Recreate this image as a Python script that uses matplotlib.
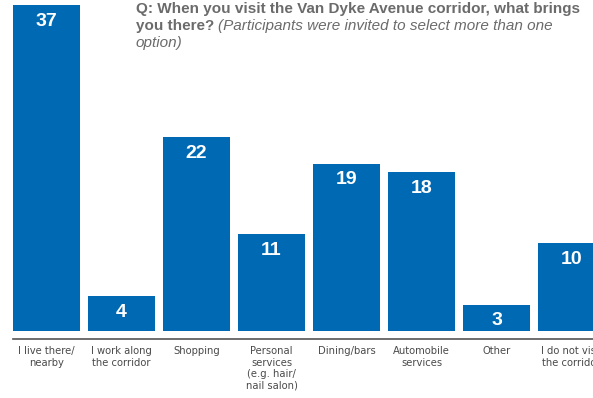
import matplotlib.pyplot as plt

categories = ["I live there/\nnearby", "I work along\nthe corridor", "Shopping",
              "Personal\nservices\n(e.g. hair/\nnail salon)", "Dining/bars",
              "Automobile\nservices", "Other", "I do not visit\nthe corridor"]
values = [37, 4, 22, 11, 19, 18, 3, 10]

blue = "#0069b4"
grey = "#6b6b6b"

plt.rcParams['font.family'] = ['Liberation Sans', 'DejaVu Sans']

fig = plt.figure(figsize=(5.93, 3.98), dpi=100)
ax = fig.add_axes([0, 0, 1, 1])
ax.set_xlim(-0.62, 7.287)
ax.set_ylim(-7.6, 37.57)
ax.axis("off")

x = range(len(values))
ax.bar(x, values, width=0.893, color=blue)
for i, v in zip(x, values):
    ax.text(i, v - 1.85, str(v), ha="center", va="center", color="white",
            fontsize=14, fontweight="bold")
    ax.text(i, -1.75, categories[i], ha="center", va="top", color="#4a4a4a",
            fontsize=7.2, linespacing=1.15, family="DejaVu Sans")

# baseline
ax.axhline(-0.92, xmin=13 / 593, xmax=1, color="#555555", lw=1.2)

# title
fs = 11
t1 = fig.text(136 / 593, 1 - 2 / 398,
              "Q: When you visit the Van Dyke Avenue corridor, what brings",
              ha="left", va="top", color=grey, fontsize=fs, fontweight="bold")
t2 = fig.text(136 / 593, 1 - 19 / 398, "you there? ",
              ha="left", va="top", color=grey, fontsize=fs, fontweight="bold")
ax.annotate("(Participants were invited to select more than one",
            xy=(1, 0), xycoords=t2, ha="left", va="bottom",
            color=grey, fontsize=fs, fontstyle="italic")
fig.text(136 / 593, 1 - 36 / 398, "option)",
         ha="left", va="top", color=grey, fontsize=fs, fontstyle="italic")

fig.savefig("out.png", dpi=100)
